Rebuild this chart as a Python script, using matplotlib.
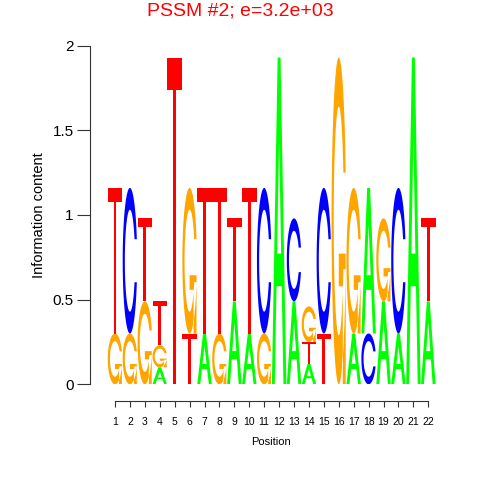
import matplotlib
matplotlib.use("Agg")
import numpy as np
import matplotlib.pyplot as plt
from matplotlib.path import Path
from matplotlib.patches import PathPatch

plt.rcParams["font.family"] = ["Liberation Sans", "DejaVu Sans"]

positions = list(range(1, 23))
letters = ["A", "C", "G", "T"]
A = [0, 0, 0, 0.10, 0, 0, 0.30, 0, 0.49, 0.30, 0, 1.93, 0.49, 0.12, 0, 0, 0.30, 0.86, 0.49, 0.30, 1.93, 0.49]
C = [0, 0.86, 0, 0, 0, 0, 0, 0, 0, 0, 0.86, 0, 0.49, 0, 0.86, 0, 0, 0.30, 0, 0.86, 0, 0]
G = [0.30, 0.30, 0.49, 0.13, 0, 0.86, 0, 0.30, 0, 0, 0.30, 0, 0, 0.21, 0, 1.93, 0.86, 0, 0.49, 0, 0, 0]
T = [0.86, 0, 0.49, 0.26, 1.93, 0.30, 0.86, 0.86, 0.49, 0.86, 0, 0, 0, 0.13, 0.30, 0, 0, 0, 0, 0, 0, 0.49]
colors = {"A": "#00FF00", "C": "#0000FF", "G": "#FFA500", "T": "#FF0000"}
yticks = [0, 0.5, 1, 1.5, 2]
ytick_labels = ["0", "0.5", "1", "1.5", "2"]
title = "PSSM #2; e=3.2e+03"


def ring_shape():
    a1 = np.linspace(0.3 + np.pi / 2, np.pi, 100)
    a2 = np.linspace(np.pi, 1.5 * np.pi, 100)
    xl1 = 0.5 + 0.5 * np.sin(a1); yl1 = 0.5 + 0.5 * np.cos(a1)
    xl2 = 0.5 + 0.5 * np.sin(a2); yl2 = 0.5 + 0.5 * np.cos(a2)
    xl = np.concatenate([xl1, xl2]); yl = np.concatenate([yl1, yl2])
    xo = np.concatenate([xl, xl[::-1]]); yo = np.concatenate([yl, 1 - yl[::-1]])
    xi1 = 0.5 + 0.35 * np.sin(a1); yi1 = 0.5 + 0.35 * np.cos(a1)
    keep = yi1 <= yl1.max()
    xi1 = xi1[keep]; yi1 = yi1[keep].copy(); yi1[0] = yl1.max()
    xi2 = 0.5 + 0.35 * np.sin(a2); yi2 = 0.5 + 0.35 * np.cos(a2)
    xi = np.concatenate([xi1, xi2]); yi = np.concatenate([yi1, yi2])
    x1 = np.concatenate([xi, xi[::-1]]); y1 = np.concatenate([yi, 1 - yi[::-1]])
    x = np.concatenate([xo, x1[::-1]]); y = np.concatenate([yo, y1[::-1]])
    return [np.column_stack([x, y])], xl1.max()


def shapes(ch):
    if ch == "T":
        x = np.array([0, 10, 10, 6, 6, 4, 4, 0]) * 0.1
        y = np.array([10, 10, 9, 9, 0, 0, 9, 9]) * 0.1
        return [np.column_stack([x, y])]
    if ch == "A":
        x = np.array([0, 4, 6, 10, 8, 6.8, 3.2, 2, 0]) * 0.1
        y = np.array([0, 10, 10, 0, 0, 3, 3, 0, 0]) * 0.1
        xh = np.array([3.6, 5, 6.4, 3.6]) * 0.1
        yh = np.array([4, 7.5, 4, 4]) * 0.1
        return [np.column_stack([x, y]), np.column_stack([xh, yh])[::-1]]
    polys, r1 = ring_shape()
    if ch == "G":
        h1 = 0.4
        xa = np.array([r1, 0.5, 0.5, r1 - 0.2, r1 - 0.2, r1, r1])
        ya = np.array([h1, h1, h1 - 0.1, h1 - 0.1, 0, 0, h1])
        polys = polys + [np.column_stack([xa, ya])]
    return polys


unit = {ch: shapes(ch) for ch in letters}

fig = plt.figure(figsize=(4.8, 4.8), dpi=100)
ax = fig.add_axes([90/480, 1-384.3/480, (453-90)/480, (384.3-45.7)/480])
ax.set_xlim(1 - 25/14.92, 22 + 24.7/14.92)
ax.set_ylim(0, 2)


def draw_letter(ch, x, y0, h, w=0.97):
    verts, codes = [], []
    for p in unit[ch]:
        pts = np.column_stack([x - w / 2 + w * p[:, 0], y0 + h * p[:, 1]])
        verts.extend(pts.tolist()); verts.append(pts[0].tolist())
        codes.extend([Path.MOVETO] + [Path.LINETO] * (len(pts) - 1) + [Path.CLOSEPOLY])
    ax.add_patch(PathPatch(Path(verts, codes), fc=colors[ch], ec="none", lw=0))


heights = {"A": A, "C": C, "G": G, "T": T}
for i, pos in enumerate(positions):
    col = [(heights[ch][i], ch) for ch in letters if heights[ch][i] > 0]
    col.sort(key=lambda t: t[0])
    y = 0
    for h, ch in col:
        draw_letter(ch, pos, y, h)
        y += h

for s in ["top", "right"]:
    ax.spines[s].set_visible(False)
ax.spines["left"].set_bounds(0, 2)
ax.spines["bottom"].set_bounds(1, 22)
ax.spines["bottom"].set_position(("outward", 12))
for s in ["left", "bottom"]:
    ax.spines[s].set_color("#333333")
    ax.spines[s].set_linewidth(0.8)

ax.set_yticks(yticks)
ax.set_yticklabels(ytick_labels)
ax.set_xticks(positions)
ax.set_xticklabels([str(p) for p in positions])
ax.tick_params(axis="y", length=9.4, pad=2.4, labelsize=11, color="#333333", width=0.8)
ax.tick_params(axis="x", length=4.3, pad=7.5, labelsize=7.5, color="#333333", width=0.8)
ax.set_ylabel("Information content", fontsize=10.5, labelpad=5)
ax.set_xlabel("Position", fontsize=8, labelpad=7)

fig.text(0.5, 1 - 11/480, title, color="red", fontsize=14, ha="center", va="center")

fig.savefig("out.png", dpi=100)
